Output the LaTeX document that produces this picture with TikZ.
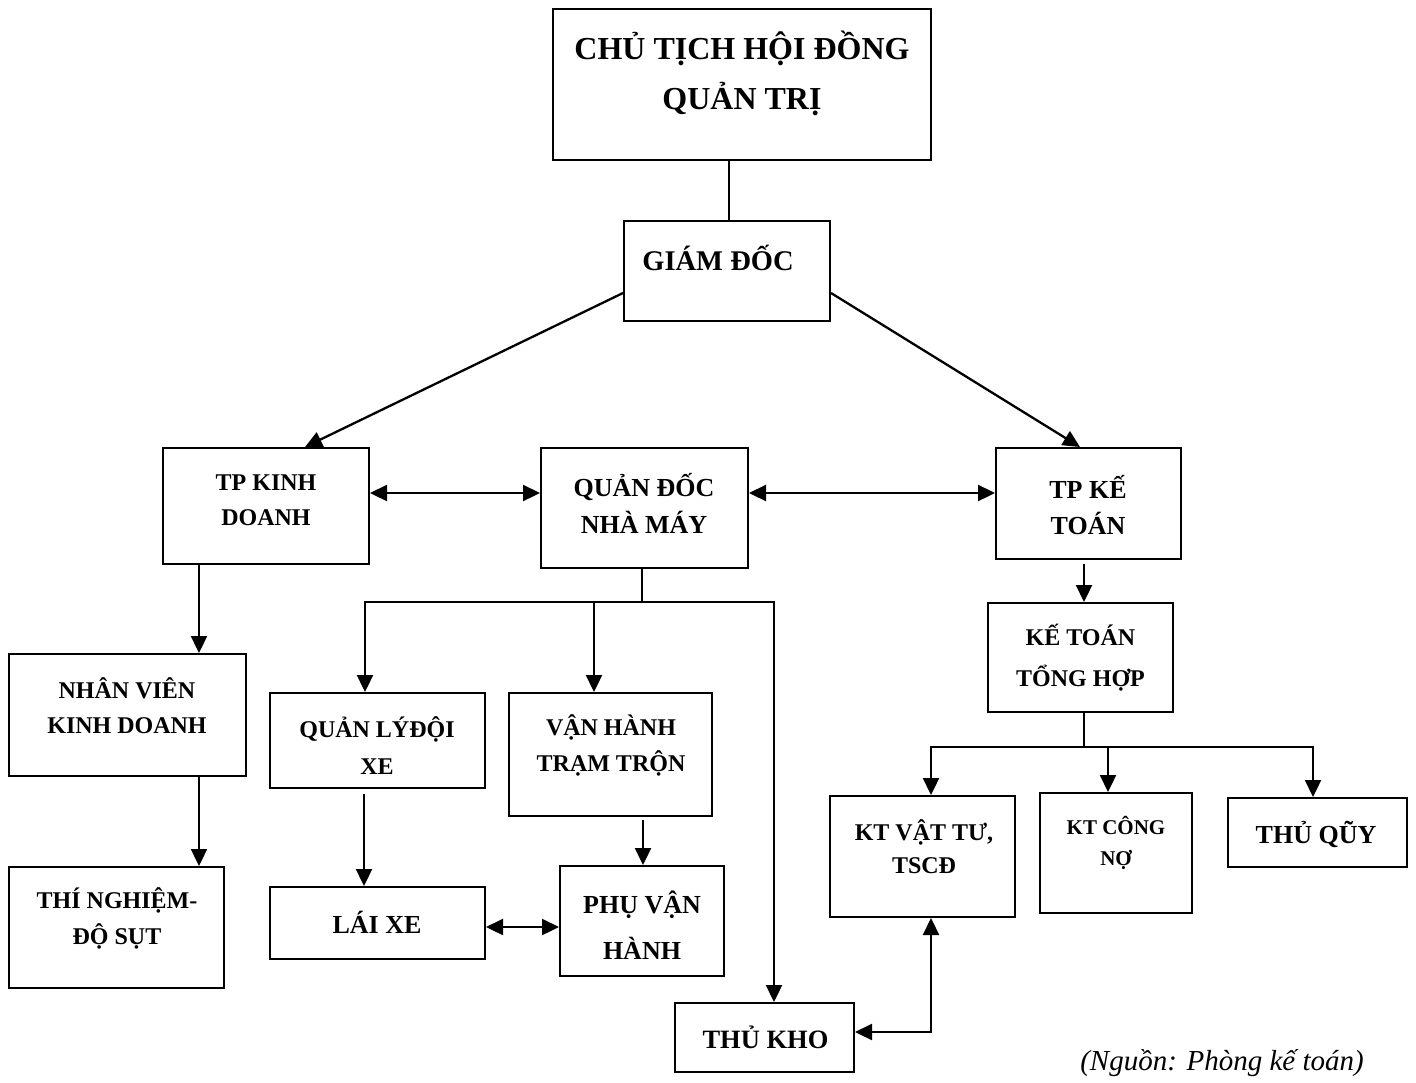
\documentclass[tikz,border=0pt]{standalone}
\usepackage{fontspec}
\setmainfont{Liberation Serif}
\usetikzlibrary{arrows.meta}
\begin{document}
\begin{tikzpicture}[x=1pt,y=-1pt,
  bx/.style={draw, line width=2pt, inner sep=0pt},
  lbl/.style 2 args={font=\bfseries\fontsize{#1}{#2}\selectfont, align=center, inner sep=0pt},
  ln/.style={line width=2.3pt},
  arr/.style={ln, -{Triangle[length=17pt,width=16pt]}},
  darr/.style={ln, {Triangle[length=17pt,width=16pt]}-{Triangle[length=17pt,width=16pt]}}]
\useasboundingbox (0,0) rectangle (1416,1082);

% boxes
\node[bx, minimum width=378pt, minimum height=151pt] (ct)   at (742,84.5)   {};
\node[bx, minimum width=206pt, minimum height=100pt] (gd)   at (727,271)    {};
\node[bx, minimum width=206pt, minimum height=116pt] (tpkd) at (266,506)    {};
\node[bx, minimum width=207pt, minimum height=120pt] (qd)   at (644.5,508)  {};
\node[bx, minimum width=185pt, minimum height=111pt] (tpkt) at (1088.5,503.5) {};
\node[bx, minimum width=185pt, minimum height=109pt] (ktth) at (1080.5,657.5) {};
\node[bx, minimum width=237pt, minimum height=122pt] (nv)   at (127.5,715)  {};
\node[bx, minimum width=215pt, minimum height=121pt] (tn)   at (116.5,927.5) {};
\node[bx, minimum width=215pt, minimum height=95pt]  (ql)   at (377.5,740.5) {};
\node[bx, minimum width=203pt, minimum height=123pt] (vh)   at (610.5,754.5) {};
\node[bx, minimum width=215pt, minimum height=72pt]  (lai)  at (377.5,923)  {};
\node[bx, minimum width=164pt, minimum height=110pt] (phu)  at (642,921)    {};
\node[bx, minimum width=179pt, minimum height=69pt]  (tk)   at (764.5,1037.5) {};
\node[bx, minimum width=185pt, minimum height=121pt] (ktvt) at (922.5,856.5) {};
\node[bx, minimum width=152pt, minimum height=120pt] (ktcn) at (1116,853)   {};
\node[bx, minimum width=179pt, minimum height=69pt]  (tq)   at (1317.5,832.5) {};

% labels
\node[lbl={32}{50}]   (ct-t)   at (742,73)      {CHỦ TỊCH HỘI ĐỒNG\\QUẢN TRỊ};
\node[lbl={28.5}{34}] (gd-t)   at (718,258)     {GIÁM ĐỐC};
\node[lbl={24}{35}]   (tpkd-t) at (266,500.5)   {TP KINH\\DOANH};
\node[lbl={26}{37}]   (qd-t)   at (644,503.5)   {QUẢN ĐỐC\\NHÀ MÁY};
\node[lbl={26}{36}]   (tpkt-t) at (1088,505)    {TP KẾ\\TOÁN};
\node[lbl={24}{41}]   (ktth-t) at (1080.5,657.5) {KẾ TOÁN\\TỔNG HỢP};
\node[lbl={24}{35}]   (nv-t)   at (127,705.5)   {NHÂN VIÊN\\KINH DOANH};
\node[lbl={24}{36}]   (tn-t)   at (117,918)     {THÍ NGHIỆM-\\ĐỘ SỤT};
\node[lbl={24}{37}]   (ql-t)   at (377,745.5)   {QUẢN LÝĐỘI\\XE};
\node[lbl={24}{36}]   (vh-t)   at (611,745)     {VẬN HÀNH\\TRẠM TRỘN};
\node[lbl={26}{30}]   (lai-t)  at (377,922)     {LÁI XE};
\node[lbl={26}{46}]   (phu-t)  at (642,925)     {PHỤ VẬN\\HÀNH};
\node[lbl={26.5}{30}] (tk-t)   at (765.5,1037)  {THỦ KHO};
\node[lbl={24}{33}]   (ktvt-t) at (924,846.5)   {KT VẬT TƯ,\\TSCĐ};
\node[lbl={21}{31}]   (ktcn-t) at (1116,842.5)  {KT CÔNG\\NỢ};
\node[lbl={26}{30}]   (tq-t)   at (1316,834)    {THỦ QŨY};
\node[font=\itshape\fontsize{29}{34}\selectfont, inner sep=0pt] (src) at (1222,1063) {(Nguồn: Phòng kế toán)};

% top of the hierarchy
\draw[ln]  ([xshift=-13pt]ct.south) -- ([xshift=-13pt]ct.south |- gd.north);
\draw[arr] ([yshift=-22pt]gd.west) -- ([xshift=39pt]tpkd.north);
\draw[arr] ([yshift=-22pt]gd.east) -- ([xshift=-8.5pt]tpkt.north);

% links between department heads
\draw[darr] ([yshift=13pt]tpkd.east) -- ([yshift=13pt]tpkd.east -| qd.west);
\draw[darr] ([yshift=15pt]qd.east) -- ([yshift=15pt]qd.east -| tpkt.west);

% sales branch
\draw[arr] ([xshift=-67pt]tpkd.south) -- ([xshift=-67pt]tpkd.south |- nv.north);
\draw[arr] ([xshift=71.5pt]nv.south) -- ([xshift=71.5pt]nv.south |- tn.north);

% plant branch
\coordinate (qbus) at (642,602);
\draw[ln]  ([xshift=-2.5pt]qd.south) -- (qbus);
\draw[arr] (qbus) -| ([xshift=-12.5pt]ql.north);
\draw[arr] (qbus) -| ([xshift=9.5pt]tk.north);
\draw[arr] ([xshift=-16.5pt]vh.north |- qbus) -- ([xshift=-16.5pt]vh.north);
\draw[arr] ([xshift=-13.5pt,yshift=-5pt]ql.south) -- ([xshift=-13.5pt]ql.south |- lai.north);
\draw[arr] ([xshift=32.5pt,yshift=-3pt]vh.south) -- ([xshift=32.5pt]vh.south |- phu.north);
\draw[darr] ([yshift=-4pt]lai.east) -- ([yshift=-4pt]lai.east -| phu.west);

% accounting branch
\draw[arr] ([xshift=-4.5pt,yshift=-4pt]tpkt.south) -- ([xshift=-4.5pt]tpkt.south |- ktth.north);
\coordinate (kbus) at (1084,747);
\draw[ln]  ([xshift=3.5pt]ktth.south) -- (kbus);
\draw[arr] (kbus) -| ([xshift=8.5pt]ktvt.north);
\draw[arr] (kbus) -| ([xshift=-4.5pt]tq.north);
\draw[arr] ([xshift=-8pt]ktcn.north |- kbus) -- ([xshift=-8pt]ktcn.north);
\draw[darr] ([yshift=5.5pt]tk.east) -| ([xshift=8.5pt]ktvt.south);
\end{tikzpicture}
\end{document}
